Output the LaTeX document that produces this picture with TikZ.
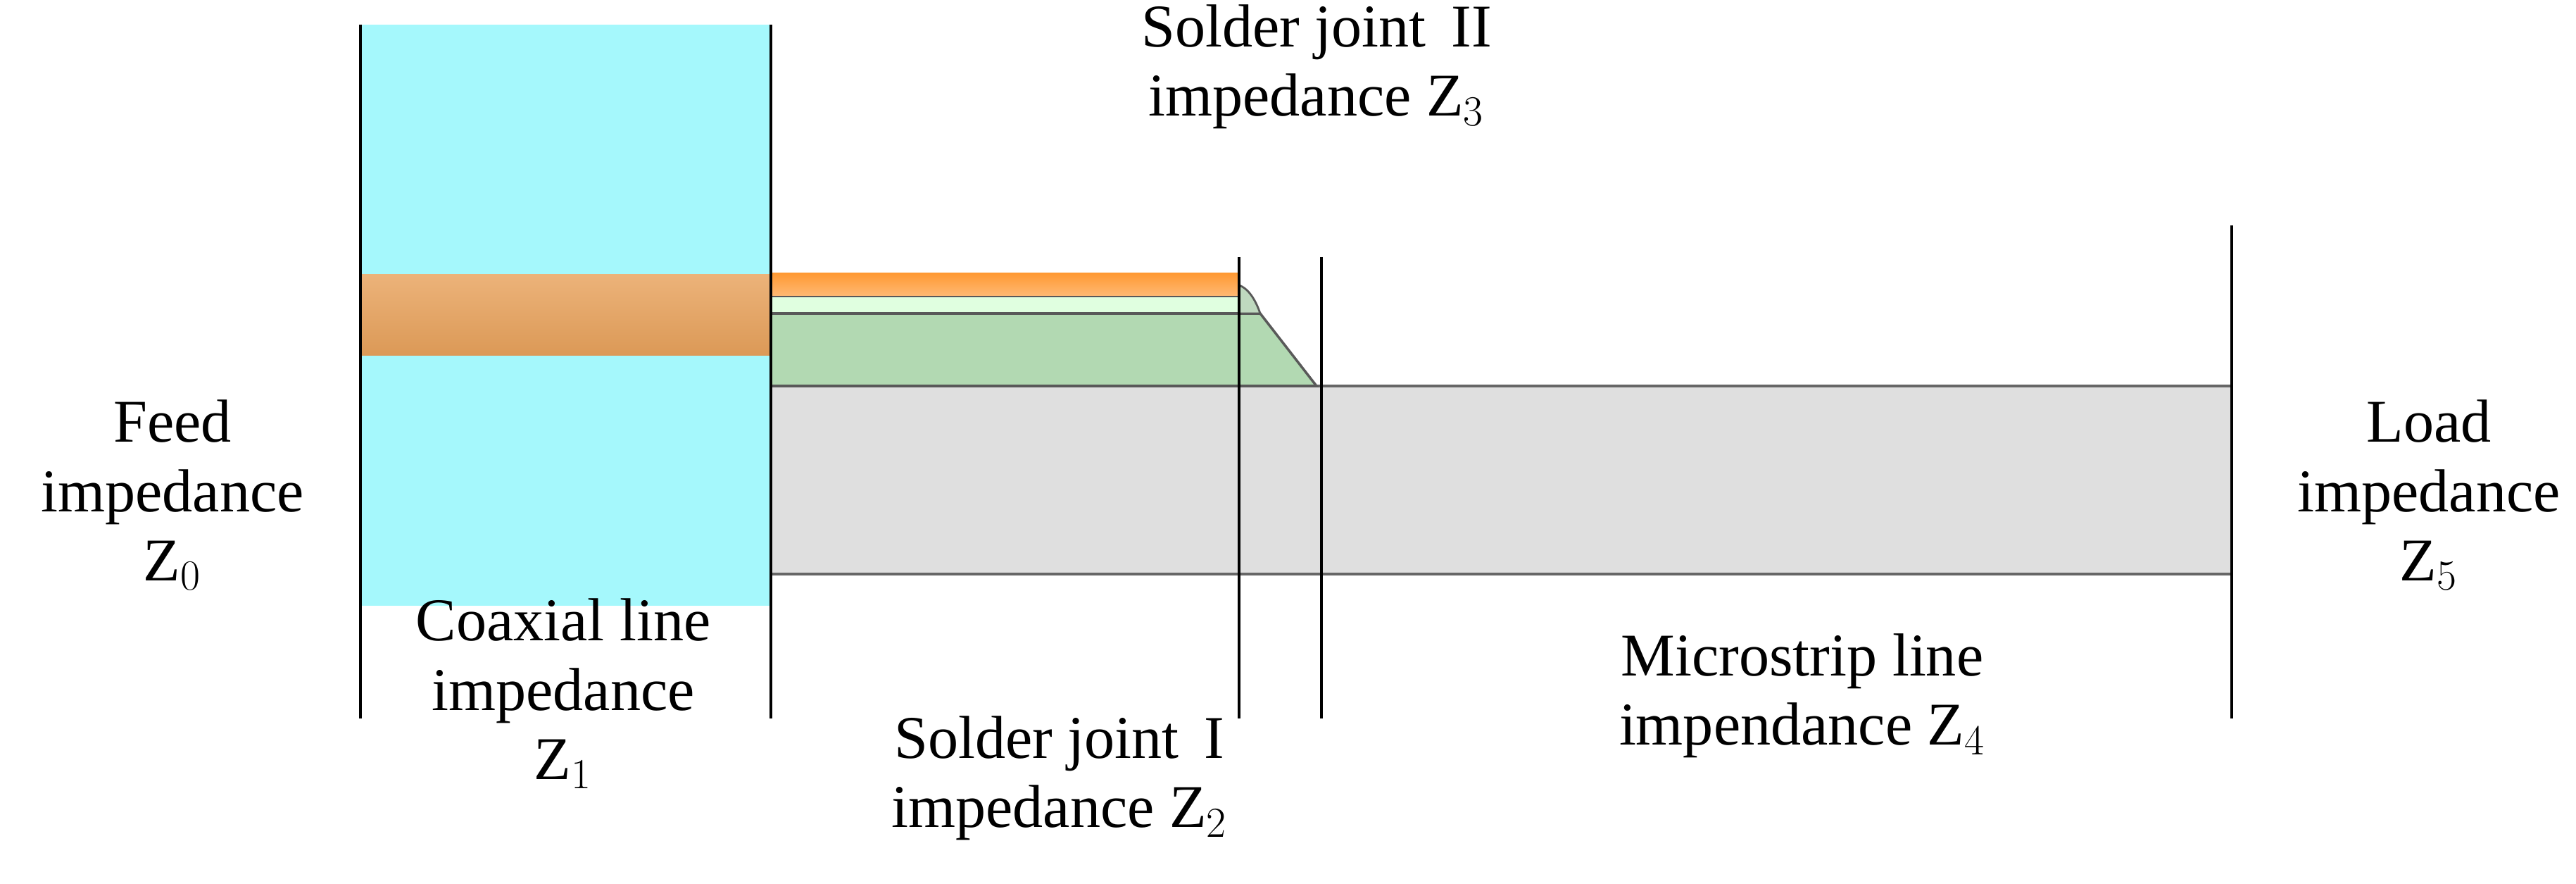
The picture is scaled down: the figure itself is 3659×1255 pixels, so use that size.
\documentclass[tikz,border=0pt]{standalone}
\usepackage{fontspec}
\setmainfont{Liberation Serif}
\definecolor{aqua}{RGB}{165,248,252}
\begin{document}
\begin{tikzpicture}[x=0.01cm,y=-0.01cm,
 lbl/.style={align=center,font=\fontsize{24.5}{28}\selectfont,inner sep=0pt},
 vline/.style={draw=black,line width=1.2pt}]
\useasboundingbox (0,0) rectangle (3659,1255);
\fill[aqua] (512,35) rectangle (1095,860);
\shade[top color=brown!50!orange!60,bottom color=brown!70!orange!80] (512,390) rectangle (1095,505);
\filldraw[fill=gray!25,draw=gray!80!black,line width=1pt] (1095,548) rectangle (3170,815);
\filldraw[fill=green!50!black!30!white,draw=gray!70!black,line width=1pt] (1095,548) -- (1095,445) -- (1790,445) -- (1870,548) -- cycle;
\filldraw[fill=green!12,draw=gray!70!black,line width=1pt] (1095,420) rectangle (1760,445);
\filldraw[fill=green!40!black!25!white,draw=gray!70!black,line width=0.8pt] (1760,405) .. controls (1775,410) and (1785,430) .. (1790,445) -- (1760,445) -- cycle;
\shade[top color=orange!80,bottom color=orange!55] (1095,388) rectangle (1760,420);
\draw[vline] (512,35) -- (512,1020);
\draw[vline] (1095,35) -- (1095,1020);
\draw[vline] (1760,365) -- (1760,1020);
\draw[vline] (1877,365) -- (1877,1020);
\draw[vline] (3170,320) -- (3170,1020);
\node[lbl] (feed) at (245,703) {Feed\\impedance\\Z$_0$};
\node[lbl] (coax) at (800,985) {Coaxial line\\impedance\\Z$_1$};
\node[lbl] (s1) at (1505,1105) {Solder joint \,I\\impedance Z$_2$};
\node[lbl] (s2) at (1870,95) {Solder joint \,II\\impedance Z$_3$};
\node[lbl] (ms) at (2560,988) {Microstrip line\\impendance Z$_4$};
\node[lbl] (load) at (3450,703) {Load\\impedance\\Z$_5$};
\end{tikzpicture}
\end{document}
